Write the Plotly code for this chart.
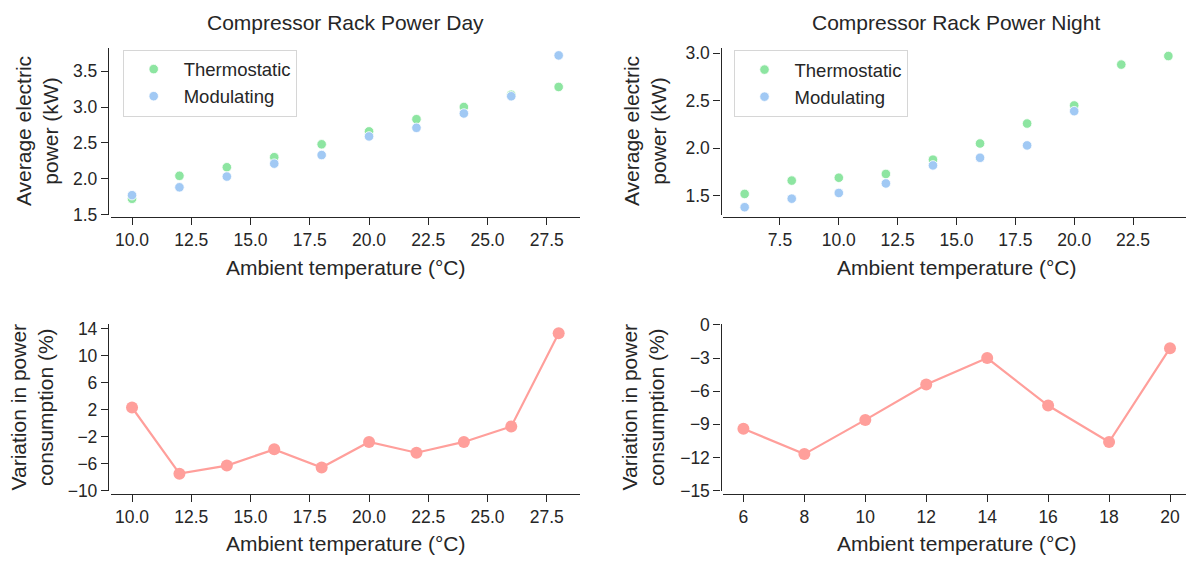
import plotly.graph_objects as go

# ---------------- data ----------------
day_temp = [10, 12, 14, 16, 18, 20, 22, 24, 26, 28]
day_thermo = [1.72, 2.04, 2.16, 2.30, 2.48, 2.66, 2.83, 3.00, 3.17, 3.28]
day_mod = [1.77, 1.88, 2.03, 2.21, 2.33, 2.59, 2.71, 2.91, 3.15, 3.72]
day_var = [2.3, -7.5, -6.3, -3.9, -6.6, -2.8, -4.4, -2.8, -0.5, 13.3]

night_temp = [6, 8, 10, 12, 14, 16, 18, 20, 22, 24]
night_thermo = [1.52, 1.66, 1.69, 1.73, 1.88, 2.05, 2.26, 2.45, 2.88, 2.97]
night_mod_temp = [6, 8, 10, 12, 14, 16, 18, 20]
night_mod = [1.38, 1.47, 1.53, 1.63, 1.82, 1.90, 2.03, 2.39]
night_var_temp = [6, 8, 10, 12, 14, 16, 18, 20]
night_var = [-9.4, -11.7, -8.6, -5.4, -3.0, -7.3, -10.6, -2.1]

day_xticks = [10.0, 12.5, 15.0, 17.5, 20.0, 22.5, 25.0, 27.5]
night_xticks_top = [7.5, 10.0, 12.5, 15.0, 17.5, 20.0, 22.5]
night_xticks_bot = [6, 8, 10, 12, 14, 16, 18, 20]
day_yticks_top = [1.5, 2.0, 2.5, 3.0, 3.5]
night_yticks_top = [1.5, 2.0, 2.5, 3.0]
day_yticks_bot = [-10, -6, -2, 2, 6, 10, 14]
night_yticks_bot = [-15, -12, -9, -6, -3, 0]

# ---------------- style ----------------
W, H = 1186, 565
FONT = "Liberation Sans, Arial, sans-serif"
INK = "#262626"
GREEN = "#8de5a1"
BLUE = "#a1c9f4"
RED = "#ff9f9b"


def px(x):
    return x / W


def py(y):
    return 1 - y / H


fig = go.Figure()

sc = dict(mode="markers", marker=dict(size=9.5, line=dict(color="white", width=0.8)))

fig.add_trace(go.Scatter(x=day_temp, y=day_thermo, name="Thermostatic", xaxis="x", yaxis="y",
                         legend="legend", legendgroup="a", marker_color=GREEN, **sc))
fig.add_trace(go.Scatter(x=day_temp, y=day_mod, name="Modulating", xaxis="x", yaxis="y",
                         legend="legend", legendgroup="b", marker_color=BLUE, **sc))
fig.add_trace(go.Scatter(x=night_temp, y=night_thermo, name="Thermostatic", xaxis="x2", yaxis="y2",
                         legend="legend2", legendgroup="c", marker_color=GREEN, **sc))
fig.add_trace(go.Scatter(x=night_mod_temp, y=night_mod, name="Modulating", xaxis="x2", yaxis="y2",
                         legend="legend2", legendgroup="d", marker_color=BLUE, **sc))

ln = dict(mode="lines+markers", line=dict(color=RED, width=2.2),
          marker=dict(color=RED, size=12), showlegend=False)
fig.add_trace(go.Scatter(x=day_temp, y=day_var, xaxis="x3", yaxis="y3", **ln))
fig.add_trace(go.Scatter(x=night_var_temp, y=night_var, xaxis="x4", yaxis="y4", **ln))

axis_common = dict(showline=True, linecolor=INK, linewidth=1.3, ticks="outside", ticklen=7,
                   tickwidth=1.3, tickcolor=INK, showgrid=False, zeroline=False,
                   tickfont=dict(family=FONT, size=17.5, color=INK), mirror=False)

LX0, LX1 = 110.7, 580
RX0, RX1 = 723, 1186
TY0, TY1 = 40, 212.7
BY0, BY1 = 326.3, 498.3

layout = dict(
    width=W, height=H, margin=dict(l=0, r=0, t=0, b=0),
    plot_bgcolor="white", paper_bgcolor="white",
    font=dict(family=FONT, color=INK),
    xaxis=dict(domain=[px(LX0), px(LX1)], anchor="free", position=py(215), range=[9.1, 28.9],
               tickvals=day_xticks, tickformat=".1f", **axis_common),
    yaxis=dict(domain=[py(TY1), py(TY0)], anchor="free", position=px(108), range=[1.5, 3.828],
               tickvals=day_yticks_top, tickformat=".1f", **axis_common),
    xaxis2=dict(domain=[px(RX0), px(RX1)], anchor="free", position=py(215), range=[5.08, 24.75],
                tickvals=night_xticks_top, tickformat=".1f", **axis_common),
    yaxis2=dict(domain=[py(TY1), py(TY0)], anchor="free", position=px(720.5), range=[1.303, 3.058],
                tickvals=night_yticks_top, tickformat=".1f", **axis_common),
    xaxis3=dict(domain=[px(LX0), px(LX1)], anchor="free", position=py(501.7), range=[9.1, 28.9],
                tickvals=day_xticks, tickformat=".1f", **axis_common),
    yaxis3=dict(domain=[py(BY1), py(BY0)], anchor="free", position=px(108), range=[-10, 14.62],
                tickvals=day_yticks_bot, **axis_common),
    xaxis4=dict(domain=[px(RX0), px(RX1)], anchor="free", position=py(501.7), range=[5.33, 20.525],
                tickvals=night_xticks_bot, **axis_common),
    yaxis4=dict(domain=[py(BY1), py(BY0)], anchor="free", position=px(720.5), range=[-15, 0.06],
                tickvals=night_yticks_bot, **axis_common),
)

leg_common = dict(xanchor="left", yanchor="top", bgcolor="rgba(255,255,255,0.8)",
                  bordercolor="#d6d6d6", borderwidth=1, font=dict(family=FONT, size=18.5, color=INK),
                  tracegroupgap=0, itemwidth=50)
layout["legend"] = dict(x=px(122.7), y=py(42), **leg_common)
layout["legend2"] = dict(x=px(733.5), y=py(42.5), **leg_common)
fig.update_layout(**layout)

ann = []
# titles
ann.append(dict(text="Compressor Rack Power Day", x=px((LX0 + LX1) / 2), y=py(13.5)))
ann.append(dict(text="Compressor Rack Power Night", x=px((RX0 + 1189) / 2), y=py(13.5)))
# x labels
for cx in [(LX0 + LX1) / 2, (RX0 + 1189) / 2]:
    ann.append(dict(text="Ambient temperature (°C)", x=px(cx), y=py(267)))
    ann.append(dict(text="Ambient temperature (°C)", x=px(cx), y=py(553)))
# y labels
ann.append(dict(text="Average electric<br>power (kW)", x=px(37), y=py((TY0 + TY1) / 2), textangle=-90))
ann.append(dict(text="Average electric<br>power (kW)", x=px(645), y=py((TY0 + TY1) / 2), textangle=-90))
ann.append(dict(text="Variation in power<br>consumption (%)", x=px(32), y=py((BY0 + BY1) / 2), textangle=-90))
ann.append(dict(text="Variation in power<br>consumption (%)", x=px(643), y=py((BY0 + BY1) / 2), textangle=-90))

for a in ann:
    a.update(xref="paper", yref="paper", showarrow=False, xanchor="center", yanchor="middle",
             font=dict(family=FONT, size=21, color=INK))
    fig.add_annotation(**a)

fig.write_html("out.html")
